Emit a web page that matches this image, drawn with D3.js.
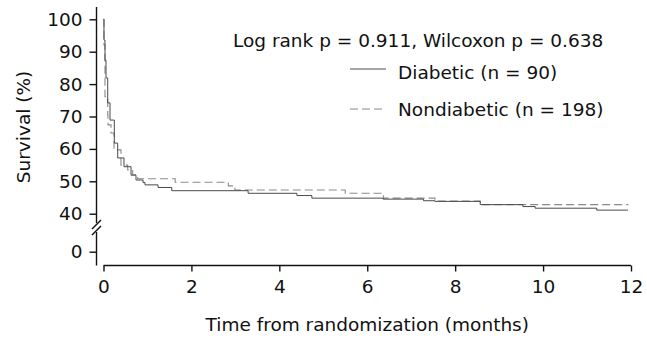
<!DOCTYPE html>
<html>
<head>
<meta charset="utf-8">
<script src="https://cdn.jsdelivr.net/npm/d3@7"></script>
<style>
  html, body { margin: 0; padding: 0; background: #fff; }
  svg { display: block; }
  text { font-family: "DejaVu Sans", sans-serif; fill: #111; }
</style>
</head>
<body>
<svg id="chart" width="647" height="339"></svg>
<script>
// ---- data (time in months, survival in %) ----
const diabeticTime = [0, 0.011, 0.034, 0.057, 0.096, 0.148, 0.246, 0.323, 0.466, 0.626, 0.739, 0.899, 0.944, 1.24, 1.552, 3.29, 4.40, 4.74, 6.36, 7.28, 7.54, 8.57, 9.54, 9.82, 11.22, 11.93];
const diabeticSurv = [100, 93.6, 87.4, 81.9, 74.2, 68.9, 61.8, 57.2, 54.5, 51.9, 50.4, 49.6, 48.9, 48.1, 47.1, 46.3, 45.6, 44.8, 44.5, 44.0, 43.8, 42.8, 42.2, 41.7, 41.1, 41.1];
const nondiabTime = [0, 0.011, 0.034, 0.096, 0.102, 0.171, 0.239, 0.398, 0.551, 0.664, 0.778, 1.63, 2.84, 2.99, 5.50, 6.37, 7.54, 8.57, 11.93];
const nondiabSurv = [100, 92.1, 76.1, 70.5, 67.4, 64.9, 59.7, 55.0, 53.5, 52.0, 50.8, 49.7, 48.6, 47.3, 46.3, 44.8, 43.9, 42.8, 42.7];
const xTicks = [0, 2, 4, 6, 8, 10, 12];
const yTicksUpper = [40, 50, 60, 70, 80, 90, 100];
const yTicksLower = [0];
const statsText = "Log rank p = 0.911, Wilcoxon p = 0.638";
const legendLabels = ["Diabetic (n = 90)", "Nondiabetic (n = 198)"];
const xTitle = "Time from randomization (months)";
const yTitle = "Survival (%)";

const svg = d3.select("#chart");
const fs = 18.5;

const x = d3.scaleLinear().domain([0, 12]).range([103.5, 631]);
const y = d3.scaleLinear().domain([40, 100]).range([213.7, 19.3]);
const yLow = d3.scaleLinear().domain([0, 10]).range([251.7, 219.3]);
const axisX = 96.5;
const axisY = 265.5;

// x axis
const gx = svg.append("g").attr("transform", `translate(0,${axisY})`)
  .call(d3.axisBottom(x).tickValues(xTicks).tickSize(6).tickPadding(8).tickFormat(d3.format("d")));
gx.select(".domain").attr("stroke", "#111").attr("stroke-width", 1.4).attr("d", `M${x(0)},0H${x(12)}`);
gx.selectAll(".tick line").attr("stroke", "#111").attr("stroke-width", 1.4);
gx.selectAll(".tick text").style("font-size", fs + "px").style("font-family", null).attr("fill", "#111");

// y axis upper
const gy = svg.append("g").attr("transform", `translate(${axisX},0)`)
  .call(d3.axisLeft(y).tickValues(yTicksUpper).tickSize(7).tickPadding(7));
gy.select(".domain").attr("stroke", "#111").attr("stroke-width", 1.4).attr("d", `M0,7V223`);
gy.selectAll(".tick line").attr("stroke", "#111").attr("stroke-width", 1.4);
gy.selectAll(".tick text").style("font-size", fs + "px").style("font-family", null).attr("fill", "#111");

// y axis lower
const gyl = svg.append("g").attr("transform", `translate(${axisX},0)`)
  .call(d3.axisLeft(yLow).tickValues(yTicksLower).tickSize(7).tickPadding(7));
gyl.select(".domain").attr("stroke", "#111").attr("stroke-width", 1.4).attr("d", `M0,232V${axisY}`);
gyl.selectAll(".tick line").attr("stroke", "#111").attr("stroke-width", 1.4);
gyl.selectAll(".tick text").style("font-size", fs + "px").style("font-family", null).attr("fill", "#111");

// axis break marks
[0, 6].forEach(off => {
  svg.append("line")
    .attr("x1", axisX - 4.5).attr("y1", 229 + off)
    .attr("x2", axisX + 4.5).attr("y2", 220 + off)
    .attr("stroke", "#111").attr("stroke-width", 1.4);
});

// curves
const line = d3.line().x(d => x(d[0])).y(d => y(d[1])).curve(d3.curveStepAfter);
svg.append("path")
  .datum(nondiabTime.map((t, i) => [t, nondiabSurv[i]]))
  .attr("d", line).attr("fill", "none").attr("stroke", "#8a8a8a")
  .attr("stroke-width", 1.1).attr("stroke-dasharray", "8,4");
svg.append("path")
  .datum(diabeticTime.map((t, i) => [t, diabeticSurv[i]]))
  .attr("d", line).attr("fill", "none").attr("stroke", "#4a4a4a")
  .attr("stroke-width", 1);

// stats text and legend
svg.append("text").attr("x", 233).attr("y", 47).style("font-size", fs + "px").text(statsText);
svg.append("line").attr("x1", 350).attr("x2", 386).attr("y1", 69).attr("y2", 69)
  .attr("stroke", "#4a4a4a").attr("stroke-width", 1);
svg.append("text").attr("x", 398).attr("y", 79).style("font-size", fs + "px").text(legendLabels[0]);
svg.append("line").attr("x1", 350).attr("x2", 386).attr("y1", 109).attr("y2", 109)
  .attr("stroke", "#8a8a8a").attr("stroke-width", 1.1).attr("stroke-dasharray", "8,4");
svg.append("text").attr("x", 398).attr("y", 116).style("font-size", fs + "px").text(legendLabels[1]);

// axis titles
svg.append("text").attr("x", x(6)).attr("y", 331).attr("text-anchor", "middle")
  .style("font-size", fs + "px").text(xTitle);
svg.append("text").attr("transform", "translate(30,127) rotate(-90)").attr("text-anchor", "middle")
  .style("font-size", fs + "px").text(yTitle);
</script>
</body>
</html>
